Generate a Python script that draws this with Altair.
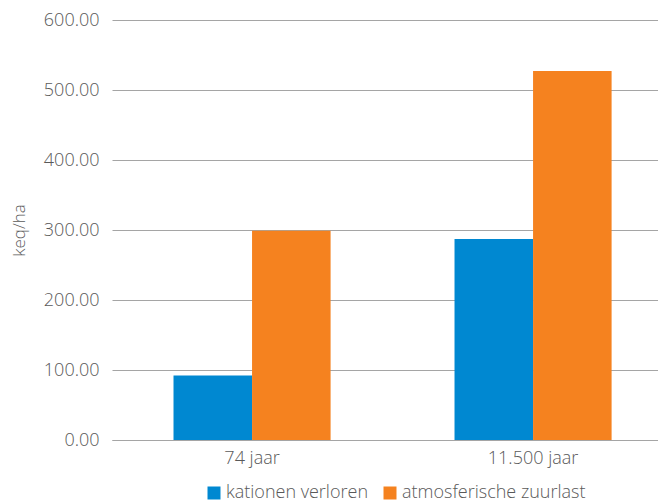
import altair as alt
import pandas as pd

categories = ["74 jaar", "11.500 jaar"]
series = ["kationen verloren", "atmosferische zuurlast"]
kationen = [92, 287]
zuurlast = [299, 527]
y_ticks = [0, 100, 200, 300, 400, 500, 600]
colors = ["#0088D1", "#F5821F"]

rows = []
for c, k, z in zip(categories, kationen, zuurlast):
    rows.append({"cat": c, "series": series[0], "value": k})
    rows.append({"cat": c, "series": series[1], "value": z})
df = pd.DataFrame(rows)

FONT = "Open Sans"
TXT = "#595959"

chart = alt.Chart(df).mark_bar().encode(
    x=alt.X("cat:N", sort=categories, title=None,
            scale=alt.Scale(paddingInner=0.441, paddingOuter=0.192, align=0.57),
            axis=alt.Axis(labelAngle=0, labelFontSize=18, labelFont=FONT, labelFontWeight=300,
                          labelColor=TXT, ticks=False, domainColor="#A5A5A5", labelPadding=9)),
    xOffset=alt.XOffset("series:N", sort=series, scale=alt.Scale(paddingInner=0, paddingOuter=0)),
    y=alt.Y("value:Q", title="keq/ha",
            scale=alt.Scale(domain=[0, 600], nice=False),
            axis=alt.Axis(values=y_ticks, format=".2f", labelFontSize=18, labelFont=FONT,
                          labelFontWeight=300, labelColor=TXT, ticks=False, domain=False,
                          gridColor="#A5A5A5", gridWidth=1, labelPadding=13,
                          titleFont=FONT, titleFontSize=17, titleFontWeight=300,
                          titleColor=TXT, titlePadding=15)),
    color=alt.Color("series:N", sort=series, title=None,
                    scale=alt.Scale(domain=series, range=colors),
                    legend=alt.Legend(orient="none", legendX=93, legendY=464, direction="horizontal",
                                      symbolType="square", symbolSize=169, symbolStrokeWidth=0,
                                      labelFontSize=18, labelFont=FONT, labelFontWeight=300,
                                      labelColor=TXT, labelOffset=3, columnPadding=12,
                                      labelLimit=400)),
).properties(
    width=546, height=420,
    autosize=alt.AutoSizeParams(type="none"),
    padding={"left": 104, "top": 12, "right": 0, "bottom": 62},
).configure_view(stroke=None)

chart.save("out.html", embed_options={"renderer": "svg", "actions": False})
